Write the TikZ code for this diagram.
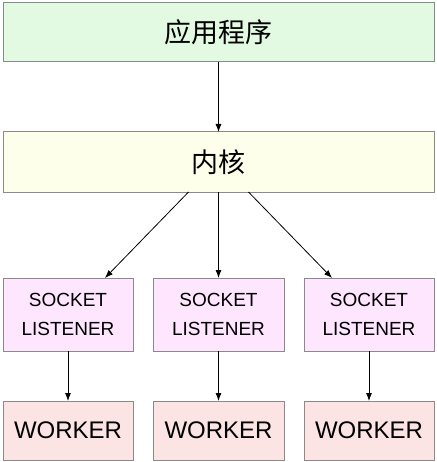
\documentclass[tikz,border=0pt]{standalone}
\usepackage{fontspec}
\setmainfont{Liberation Sans}
\newfontfamily\cjk{Noto Sans CJK SC}
\usetikzlibrary{arrows.meta,calc}
\definecolor{appfill}{HTML}{E2F9E2}
\definecolor{kernfill}{HTML}{FEFFEB}
\definecolor{sockfill}{HTML}{FEE6FE}
\definecolor{workfill}{HTML}{FCE4E4}
\definecolor{edge}{HTML}{8A8A8A}
\begin{document}
\begin{tikzpicture}[x=1pt,y=-1pt,
  box/.style={draw=edge,line width=1pt,inner sep=0pt,outer sep=0pt,anchor=center},
  wide/.style={box,minimum width=431pt,minimum height=59pt,font=\cjk\fontsize{27}{30}\selectfont},
  sockbox/.style={box,fill=sockfill,minimum width=130pt,minimum height=73pt,align=center,font=\fontsize{19}{29}\selectfont},
  workbox/.style={box,fill=workfill,minimum width=130pt,minimum height=59pt,font=\fontsize{24}{27}\selectfont},
  arr/.style={-{Latex[length=8pt,width=6pt]},line width=0.8pt,black}]
\useasboundingbox (0,0) rectangle (436,462);
\node[wide,fill=appfill] (app) at (218.5,32.5) {应用程序};
\node[wide,fill=kernfill,minimum height=60pt] (kern) at (218.5,162) {内核};
\node[sockbox] (s1) at (68,314.5) {SOCKET\\LISTENER};
\node[sockbox,minimum width=131pt] (s2) at (218.5,314.5) {SOCKET\\LISTENER};
\node[sockbox] (s3) at (369,314.5) {SOCKET\\LISTENER};
\node[workbox] (w1) at (68,430.5) {WORKER};
\node[workbox,minimum width=131pt] (w2) at (218.5,430.5) {WORKER};
\node[workbox] (w3) at (369,430.5) {WORKER};
\draw[arr] (app.south) -- (kern.north);
\draw[arr] ($(kern.south)+(-30,0)$) -- ($(s1.north)+(37,0)$);
\draw[arr] (kern.south) -- (s2.north);
\draw[arr] ($(kern.south)+(30,0)$) -- ($(s3.north)+(-37,0)$);
\draw[arr] (s1.south) -- (w1.north);
\draw[arr] (s2.south) -- (w2.north);
\draw[arr] (s3.south) -- (w3.north);
\end{tikzpicture}
\end{document}
